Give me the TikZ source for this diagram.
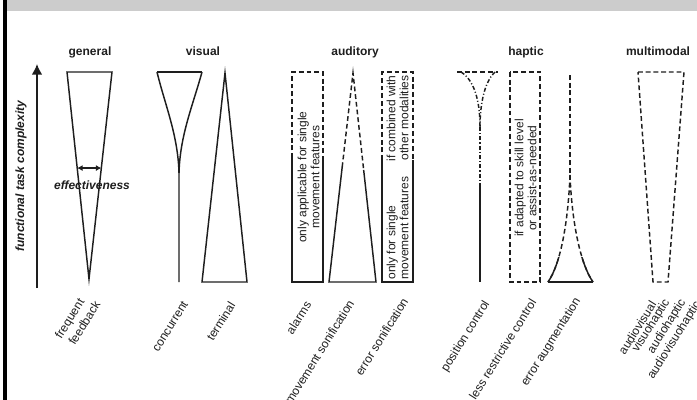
\documentclass[tikz,border=0pt]{standalone}
\usepackage{fontspec}
\setmainfont{Liberation Sans}
\usetikzlibrary{arrows.meta,calc}
\definecolor{ink}{HTML}{1E1E1E}
\definecolor{bandgray}{HTML}{CCCCCC}
\begin{document}
\begin{tikzpicture}[x=0.75pt,y=-0.75pt,
  every node/.style={font=\fontsize{9}{9.75}\selectfont, text=ink, inner sep=1pt},
  ln/.style={draw=ink, line width=1.1pt},
  dsh/.style={ln, dash pattern=on 3.6pt off 2.2pt},
  dshdot/.style={ln, dash pattern=on 3pt off 1.6pt on 0.8pt off 1.6pt},
  ttl/.style={font=\bfseries\fontsize{9}{10}\selectfont, anchor=base},
  lab/.style={rotate=58, anchor=east},
  boxtxt/.style={rotate=90, align=center},
  bi/.style={font=\bfseries\itshape\fontsize{9}{10}\selectfont}]
\coordinate (bbA) at (0,0);
\coordinate (bbB) at (697,400);
\useasboundingbox (bbA) rectangle (bbB);
\fill[bandgray] (7,0) rectangle (697,11);
\fill[black] (3,0) rectangle (7,400);

% titles
\node[ttl] (tGen) at (90,55) {general};
\node[ttl] (tVis) at (203,55) {visual};
\node[ttl] (tAud) at (355,55) {auditory};
\node[ttl] (tHap) at (526,55) {haptic};
\node[ttl] (tMul) at (658,55) {multimodal};

% axis
\coordinate (axB) at (37,288);
\coordinate (axT) at (37,64);
\draw[ln,-{Latex[length=8pt,width=8pt]}] (axB) -- (axT);
\node[bi, rotate=90] (axLab) at (21,176) {functional task complexity};

% general
\coordinate (gTL) at (67,72);
\coordinate (gTR) at (112,72);
\coordinate (gA) at (89,279);
\draw[ln, line join=miter] (gTL) -- (gTR) -- (gA) -- cycle;
\coordinate (eL) at ($(gTL)!0.464!(gA)$);
\coordinate (eR) at ($(gTR)!0.464!(gA)$);
\draw[ln, line width=0.9pt, {Latex[length=4pt,width=4.5pt]}-{Latex[length=4pt,width=4.5pt]}] (eL) -- (eR);
\node[bi] (effLab) at (92,185) {effectiveness};

% visual: concurrent
\coordinate (cTL) at (157,72);
\coordinate (cTR) at (202,72);
\coordinate (cM) at (179,173);
\coordinate (cB) at (179,282);
\draw[ln] (cTL) -- (cTR);
\draw[ln] (cTL) .. controls (165,105) and (178,135) .. (cM) -- (cB);
\draw[ln] (cTR) .. controls (193,105) and (180,135) .. (cM);
% visual: terminal
\coordinate (tA) at (225,73);
\coordinate (tBL) at (202,282);
\coordinate (tBR) at (247,282);
\draw[ln, line join=miter] (tA) -- (tBL) -- (tBR) -- cycle;

% auditory: alarms box
\coordinate (alTL) at (292,72);
\coordinate (alTR) at (323,72);
\coordinate (alML) at (292,158);
\coordinate (alMR) at (323,158);
\coordinate (alBL) at (292,282);
\coordinate (alBR) at (323,282);
\draw[dsh] (alML) -- (alTL) -- (alTR) -- (alMR);
\draw[ln] (alML) -- (alBL) -- (alBR) -- (alMR);
\node[boxtxt] (alTxt) at (308.5,177) {only applicable for single\\movement features};

% auditory: movement sonification
\coordinate (msA) at (353,73);
\coordinate (msBL) at (329,282);
\coordinate (msBR) at (376,282);
\coordinate (msL) at ($(msA)!0.45!(msBL)$);
\coordinate (msR) at ($(msA)!0.464!(msBR)$);
\draw[dsh] (msL) -- (msA) -- (msR);
\draw[ln] (msL) -- (msBL) -- (msBR) -- (msR);

% auditory: error sonification box
\coordinate (esTL) at (382,72);
\coordinate (esTR) at (413,72);
\coordinate (esML) at (382,160);
\coordinate (esMR) at (413,160);
\coordinate (esBL) at (382,282);
\coordinate (esBR) at (413,282);
\draw[dsh] (esML) -- (esTL) -- (esTR) -- (esMR);
\draw[ln] (esML) -- (esBL) -- (esBR) -- (esMR);
\node[rotate=90, align=right, anchor=east] (esTop) at (397.5,74) {if combined with\\other modalities};
\node[rotate=90, align=left, anchor=west] (esBot) at (397.5,281) {only for single\\movement features};

% haptic: position control
\coordinate (pcL) at (457,72);
\coordinate (pcR) at (498,72);
\coordinate (pcCL) at (461,72);
\coordinate (pcCR) at (495,72);
\coordinate (pcM) at (480,127);
\coordinate (pcS) at (480,183);
\coordinate (pcB) at (480,282);
\draw[dsh] (pcL) -- (pcR);
\draw[dshdot] (pcCL) .. controls (474,80) and (480,100) .. (pcM);
\draw[dshdot] (pcCR) .. controls (486,80) and (480,100) .. (pcM);
\draw[dshdot] (pcM) -- (pcS);
\draw[ln] (pcS) -- (pcB);

% haptic: less restrictive control
\coordinate (lrTL) at (510,72);
\coordinate (lrBR) at (540,282);
\draw[dsh] (lrTL) rectangle (lrBR);
\node[boxtxt] (lrTxt) at (525.5,178) {if adapted to skill level\\or assist-as-needed};

% haptic: error augmentation
\coordinate (eaT) at (570,75);
\coordinate (eaM) at (570,175);
\coordinate (eaBL) at (548,282);
\coordinate (eaBR) at (593,282);
\draw[dsh] (eaT) -- (eaM);
\draw[dsh] (eaM) .. controls (568,225) and (560,265) .. (eaBL);
\draw[dsh] (eaM) .. controls (572,225) and (581,265) .. (eaBR);
\begin{scope}
  \clip (540,257) rectangle (600,290);
  \draw[ln] (eaM) .. controls (568,225) and (560,265) .. (eaBL);
  \draw[ln] (eaM) .. controls (572,225) and (581,265) .. (eaBR);
\end{scope}
\draw[ln] (eaBL) -- (eaBR);

% multimodal
\coordinate (mmTL) at (638,72);
\coordinate (mmTR) at (684,72);
\coordinate (mmBR) at (668,282);
\coordinate (mmBL) at (653,282);
\draw[dsh] (mmTL) -- (mmTR) -- (mmBR) -- (mmBL) -- cycle;

% bottom labels
\node[lab] (l1) at (83,299) {frequent};
\node[lab] (l2) at (98,301) {feedback};
\node[lab] (l3) at (186,301) {concurrent};
\node[lab] (l4) at (233,302) {terminal};
\node[lab] (l5) at (309,301) {alarms};
\node[lab] (l6) at (352,300) {movement sonification};
\node[lab] (l7) at (406,298) {error sonification};
\node[lab] (l8) at (488,301) {position control};
\node[lab] (l9) at (534,299) {less restrictive control};
\node[lab] (l10) at (579,298) {error augmentation};
\node[lab] (l11) at (654,301) {audiovisual};
\node[lab] (l12) at (668,299) {visuohaptic};
\node[lab] (l13) at (684,299) {audiohaptic};
\node[lab] (l14) at (699,301) {audiovisuohaptic};
\end{tikzpicture}
\end{document}
